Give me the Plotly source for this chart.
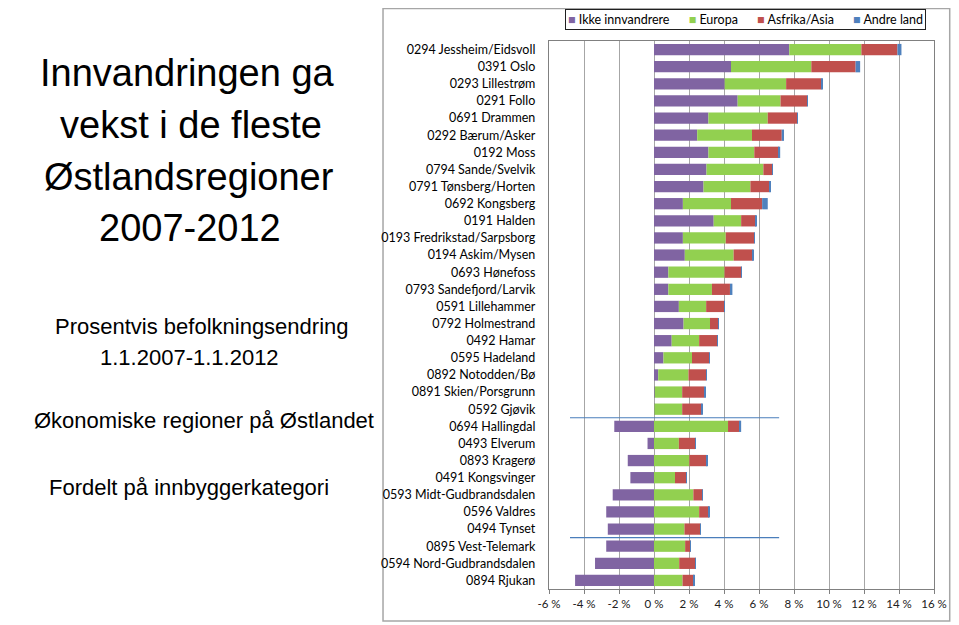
import plotly.graph_objects as go

regions = ["0294 Jessheim/Eidsvoll", "0391 Oslo", "0293 Lillestrøm", "0291 Follo", "0691 Drammen",
           "0292 Bærum/Asker", "0192 Moss", "0794 Sande/Svelvik", "0791 Tønsberg/Horten", "0692 Kongsberg",
           "0191 Halden", "0193 Fredrikstad/Sarpsborg", "0194 Askim/Mysen", "0693 Hønefoss",
           "0793 Sandefjord/Larvik", "0591 Lillehammer", "0792 Holmestrand", "0492 Hamar", "0595 Hadeland",
           "0892 Notodden/Bø", "0891 Skien/Porsgrunn", "0592 Gjøvik", "0694 Hallingdal", "0493 Elverum",
           "0893 Kragerø", "0491 Kongsvinger", "0593 Midt-Gudbrandsdalen", "0596 Valdres", "0494 Tynset",
           "0895 Vest-Telemark", "0594 Nord-Gudbrandsdalen", "0894 Rjukan"]

ikke_innvandrere = [7.73, 4.40, 4.04, 4.78, 3.11, 2.47, 3.11, 3.00, 2.83, 1.65, 3.41, 1.65, 1.76, 0.82, 0.82,
                    1.42, 1.69, 1.01, 0.54, 0.24, 0.04, 0.02, -2.27, -0.37, -1.50, -1.35, -2.36, -2.73, -2.64,
                    -2.73, -3.37, -4.51]
europa = [4.12, 4.59, 3.51, 2.45, 3.39, 3.13, 2.62, 3.25, 2.68, 2.75, 1.57, 2.45, 2.79, 3.21, 2.49, 1.56,
          1.51, 1.57, 1.63, 1.73, 1.57, 1.59, 4.23, 1.42, 2.02, 1.20, 2.25, 2.58, 1.74, 1.78, 1.44, 1.63]
afrika_asia = [2.06, 2.53, 2.02, 1.52, 1.68, 1.70, 1.40, 0.51, 1.08, 1.78, 0.84, 1.63, 1.09, 0.97, 1.03, 1.05,
               0.47, 1.05, 0.98, 1.01, 1.26, 1.11, 0.64, 0.94, 0.99, 0.65, 0.52, 0.56, 0.92, 0.32, 0.94, 0.65]
andre_land = [0.23, 0.26, 0.04, 0.05, 0.04, 0.13, 0.08, 0.02, 0.04, 0.32, 0.06, 0.02, 0.07, 0.01, 0.14, 0.01,
              0.01, 0.01, 0.01, 0.04, 0.09, 0.03, 0.11, 0.04, 0.02, 0.02, 0.01, 0.01, 0.02, 0.01, 0.02, 0.02]

series_names = ["Ikke innvandrere", "Europa", "Asfrika/Asia", "Andre land"]
series_colors = ["#8064A2", "#92D050", "#C0504D", "#4F81BD"]

x_tickvals = [-6, -4, -2, 0, 2, 4, 6, 8, 10, 12, 14, 16]
x_ticktext = ["-6 %", "-4 %", "-2 %", "0 %", "2 %", "4 %", "6 %", "8 %", "10 %", "12 %", "14 %", "16 %"]

# separators drawn after these regions
separator_after = ["0592 Gjøvik", "0494 Tynset"]

TITLEFONT = "Liberation Sans, Arial, sans-serif"
LABEL = "Lato, Calibri, Carlito, sans-serif"

fig = go.Figure()
for name, vals, col in zip(series_names, [ikke_innvandrere, europa, afrika_asia, andre_land], series_colors):
    fig.add_trace(go.Bar(y=regions, x=vals, name=name, orientation="h",
                         marker=dict(color=col, line=dict(width=0))))

OFF = 8  # page body margin
W, H = 951, 617
L, R, T, B = 541, 18, 33, 36
pw, ph = W - L - R, H - T - B


def px(xs):
    return (xs - OFF - L) / pw


def py(ys):
    return (H - B - (ys - OFF)) / ph


shapes = []
for r in separator_after:
    i = regions.index(r)
    shapes.append(dict(type="line", xref="x", yref="y", x0=-4.8, x1=7.15, y0=i + 0.5, y1=i + 0.5,
                       line=dict(color="#4A7EBB", width=1.2)))
# outer chart frame
shapes.append(dict(type="rect", xref="paper", yref="paper", x0=px(380), x1=px(957), y0=py(621), y1=py(8.5),
                   line=dict(color="#A6A6A6", width=1.5), layer="below"))

annotations = []
title_lines = [("Innvandringen ga", 181, 73), ("vekst i de fleste", 184, 125),
               ("Østlandsregioner", 182, 177), ("2007-2012", 183, 228)]
for t, cx, cy in title_lines:
    annotations.append(dict(text=t, x=px(cx), y=py(cy), xref="paper", yref="paper", showarrow=False,
                            xanchor="center", yanchor="middle", font=dict(family=TITLEFONT, size=38, color="black")))
sub_lines = [("Prosentvis befolkningsendring", 196, 326), ("1.1.2007-1.1.2012", 183, 357),
             ("Økonomiske regioner på Østlandet", 198, 421), ("Fordelt på innbyggerkategori", 182, 487)]
for t, cx, cy in sub_lines:
    annotations.append(dict(text=t, x=px(cx), y=py(cy), xref="paper", yref="paper", showarrow=False,
                            xanchor="center", yanchor="middle", font=dict(family=TITLEFONT, size=22, color="black")))

legend_txt = "&nbsp;&nbsp;&nbsp;&nbsp;&nbsp;&nbsp;".join(
    f"<span style='color:{c}'>■</span>&nbsp;{n}" for n, c in zip(series_names, series_colors))
annotations.append(dict(text=legend_txt, x=px(749.5), y=py(19.5), xref="paper", yref="paper", showarrow=False,
                        xanchor="center", yanchor="middle", bordercolor="#202020", borderwidth=1, borderpad=2,
                        bgcolor="white", font=dict(family=LABEL, size=12.5, color="black")))

fig.update_layout(
    width=W, height=H, margin=dict(l=L, r=R, t=T, b=B, pad=0),
    barmode="relative", bargap=0.34, showlegend=False,
    plot_bgcolor="white", paper_bgcolor="white",
    shapes=shapes, annotations=annotations,
    xaxis=dict(range=[-6, 16], tickvals=x_tickvals, ticktext=x_ticktext, showgrid=True,
               gridcolor="#A6A6A6", gridwidth=1.3, zeroline=True, zerolinecolor="#A6A6A6", zerolinewidth=1.3,
               showline=True, linecolor="#808080", linewidth=1.3, mirror=True,
               ticks="outside", ticklen=4, tickcolor="#808080",
               tickfont=dict(family=LABEL, size=11.5, color="#202020")),
    yaxis=dict(type="category", categoryorder="array", categoryarray=regions, autorange="reversed",
               showline=True, linecolor="#808080", linewidth=1.3, mirror=True, showgrid=False,
               ticks="", ticklabelstandoff=10, tickfont=dict(family=LABEL, size=12.5, color="black")),
)

fig.write_html("out.html")
